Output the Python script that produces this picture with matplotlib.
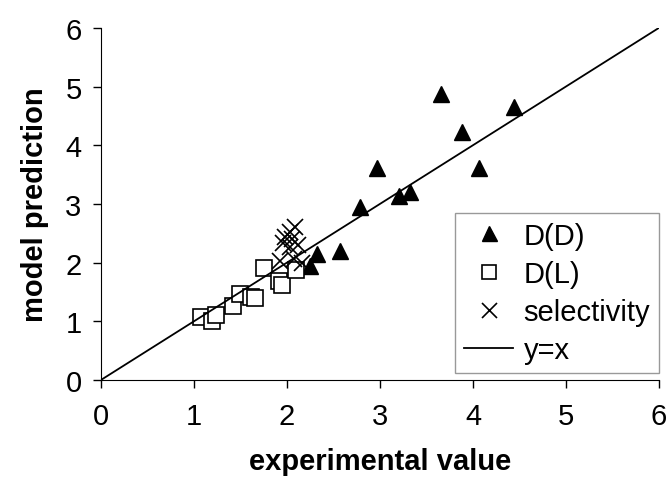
import matplotlib
matplotlib.use("Agg")
import matplotlib.pyplot as plt
import numpy as np

plt.rcParams['font.family'] = ['Liberation Sans', 'DejaVu Sans']

# D(D) points
dd_x = [2.25, 2.32, 2.57, 2.79, 2.97, 3.20, 3.32, 3.66, 3.88, 4.06, 4.44]
dd_y = [1.95, 2.15, 2.20, 2.94, 3.62, 3.14, 3.20, 4.88, 4.23, 3.62, 4.65]

# D(L) points
dl_x = [1.08, 1.19, 1.24, 1.42, 1.49, 1.61, 1.66, 1.75, 1.91, 1.95, 2.10]
dl_y = [1.08, 1.01, 1.10, 1.26, 1.47, 1.42, 1.39, 1.90, 1.69, 1.62, 1.87]

# selectivity points
sel_x = [2.09, 2.03, 1.98, 1.96, 2.05, 2.03, 2.12, 1.92, 2.07, 2.16]
sel_y = [2.61, 2.52, 2.44, 2.33, 2.40, 2.27, 2.30, 2.03, 2.06, 2.00]

line_x = [0, 6]
line_y = [0, 6]

fig = plt.figure(figsize=(6.69, 4.89), dpi=100)
ax = fig.add_axes([0.151, 0.221, 0.834, 0.720])

ax.plot(dd_x, dd_y, linestyle='none', marker='^', markersize=12,
        color='black', label='D(D)')
ax.plot(dl_x, dl_y, linestyle='none', marker='s', markersize=11,
        markerfacecolor='white', markeredgecolor='black', markeredgewidth=1.2,
        label='D(L)')
ax.plot(sel_x, sel_y, linestyle='none', marker='x', markersize=12,
        markeredgewidth=1.2, color='black', label='selectivity')
ax.plot(line_x, line_y, color='black', linewidth=1.3, label='y=x')

ax.set_xlim(0, 6)
ax.set_ylim(0, 6)
ax.set_xticks(range(7))
ax.set_yticks(range(7))
ax.spines['top'].set_visible(False)
ax.spines['right'].set_visible(False)
ax.tick_params(direction='out', length=6, width=1, labelsize=21, pad=10)
ax.tick_params(axis='y', pad=8)

ax.set_xlabel('experimental value', fontsize=21, fontweight='bold', labelpad=12)
ax.set_ylabel('model prediction', fontsize=21, fontweight='bold', labelpad=12)

leg = ax.legend(loc='lower right', bbox_to_anchor=(1.0, 0.02), fontsize=21,
                frameon=True, fancybox=False, edgecolor='#808080',
                handlelength=1.7, labelspacing=0.35, borderpad=0.3,
                handletextpad=0.35, borderaxespad=0.0, markerscale=0.9)
leg.get_frame().set_linewidth(1.0)

fig.savefig('out.png', dpi=100)
